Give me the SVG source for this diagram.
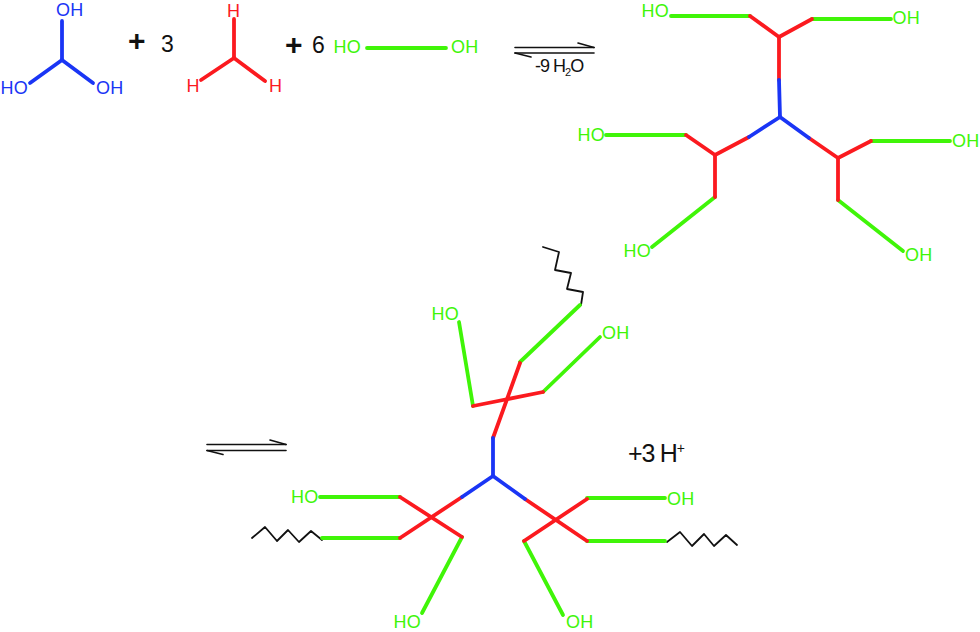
<svg xmlns="http://www.w3.org/2000/svg" width="980" height="632" viewBox="0 0 980 632">
<style>
text{font-family:"Liberation Sans",Arial,sans-serif;font-size:18px;letter-spacing:.2px}
line,polyline{fill:none;stroke-linecap:round;stroke-linejoin:round;stroke-width:3.8}
.g line{stroke:#40f508}.r line{stroke:#fb1a1f}.b line{stroke:#1a35f5}
polyline.k{stroke:#111;stroke-width:1.8}
.a line{stroke:#111;stroke-width:1.6}
.tg{fill:#40f508}.tr{fill:#fb1a1f}.tb{fill:#1a35f5}.tk{fill:#111;font-size:23px;letter-spacing:0}
.p{fill:#111;font-size:30px;font-weight:bold;letter-spacing:0}
</style>
<rect width="980" height="632" fill="#fff"/>
<g id="triol">
<g class="b"><line x1="62" y1="21" x2="62" y2="60"/><line x1="62" y1="60" x2="30" y2="83"/><line x1="62" y1="60" x2="93" y2="83"/></g>
<text class="tb" x="56" y="16">OH</text><text class="tb" x="0.5" y="94">HO</text><text class="tb" x="96" y="94">OH</text>
</g>
<g id="aldehyde">
<g class="r"><line x1="234" y1="19" x2="234" y2="58"/><line x1="234" y1="58" x2="201" y2="80"/><line x1="234" y1="58" x2="265" y2="81"/></g>
<text class="tr" x="227" y="16.500">H</text><text class="tr" x="186.500" y="92">H</text><text class="tr" x="269" y="92">H</text>
</g>
<g id="diol">
<g class="g"><line x1="367" y1="48" x2="446" y2="48"/></g>
<text class="tg" x="333.500" y="53">HO</text><text class="tg" x="451" y="53">OH</text>
</g>
<g id="coefficients">
<text class="p" x="128" y="51">+</text><text class="tk" x="161" y="52">3</text>
<text class="p" x="285" y="55">+</text><text class="tk" x="312" y="53">6</text>
</g>
<g id="equilibrium-1" class="a">
<line x1="515" y1="47.5" x2="594" y2="47.5"/><line x1="594" y1="47.5" x2="578" y2="43"/>
<line x1="515" y1="53" x2="594" y2="53"/><line x1="515" y1="53" x2="531" y2="57"/>
<text x="535" y="72" style="font-size:18px;fill:#111;letter-spacing:-1px">-9 H<tspan dy="4" style="font-size:11px">2</tspan><tspan dy="-4">O</tspan></text>
</g>
<g id="equilibrium-2" class="a">
<line x1="207" y1="444.5" x2="286" y2="444.5"/><line x1="286" y1="444.5" x2="270" y2="440"/>
<line x1="207" y1="450.5" x2="286" y2="450.5"/><line x1="207" y1="450.5" x2="223" y2="454.5"/>
</g>
<g id="intermediate">
<g class="g"><line x1="671" y1="16" x2="750" y2="16"/><line x1="812" y1="19" x2="891" y2="19"/><line x1="686" y1="135" x2="606" y2="135"/><line x1="715" y1="197" x2="652" y2="247"/><line x1="871" y1="141" x2="950" y2="141"/><line x1="838" y1="200" x2="903" y2="251"/></g>
<g class="r"><line x1="750" y1="16" x2="779" y2="37"/><line x1="779" y1="37" x2="812" y2="19"/><line x1="779" y1="37" x2="779" y2="80"/><line x1="749" y1="137" x2="715" y2="155"/><line x1="715" y1="155" x2="686" y2="135"/><line x1="715" y1="155" x2="715" y2="197"/><line x1="809" y1="138" x2="838" y2="158"/><line x1="838" y1="158" x2="871" y2="141"/><line x1="838" y1="158" x2="838" y2="200"/></g>
<g class="b"><line x1="779" y1="80" x2="780" y2="117"/><line x1="780" y1="117" x2="749" y2="137"/><line x1="780" y1="117" x2="809" y2="138"/></g>
<text class="tg" x="641.500" y="17">HO</text><text class="tg" x="892.500" y="24">OH</text><text class="tg" x="577.500" y="141">HO</text><text class="tg" x="952" y="147">OH</text><text class="tg" x="623.500" y="257">HO</text><text class="tg" x="905" y="261">OH</text>
</g>
<g id="polymer">
<polyline class="k" points="543,247 559,252 555,270 571,273 567,289 583,292 581,305"/>
<polyline class="k" points="322,540 311,531 299,542 288,530 277,541 265,527 252,538"/>
<polyline class="k" points="667,542 680,532 692,546 704,534 714,546 726,535 737,545"/>
<g class="g"><line x1="580" y1="305" x2="520" y2="362"/><line x1="473" y1="406" x2="459" y2="322"/><line x1="543" y1="392" x2="600" y2="337"/><line x1="400" y1="497" x2="320" y2="497"/><line x1="400" y1="538" x2="322" y2="538"/><line x1="462" y1="537" x2="422" y2="613"/><line x1="587" y1="498" x2="665" y2="498"/><line x1="587" y1="541" x2="665" y2="541"/><line x1="524" y1="541" x2="563" y2="615"/></g>
<g class="r"><line x1="520" y1="363" x2="493" y2="438"/><line x1="473" y1="406" x2="543" y2="392"/><line x1="462" y1="497" x2="400" y2="538"/><line x1="400" y1="497" x2="462" y2="537"/><line x1="525" y1="499" x2="587" y2="541"/><line x1="524" y1="541" x2="587" y2="499"/></g>
<g class="b"><line x1="493" y1="438" x2="493" y2="476"/><line x1="493" y1="476" x2="462" y2="497"/><line x1="493" y1="476" x2="525" y2="499"/></g>
<text class="tg" x="431.500" y="320">HO</text><text class="tg" x="602" y="339">OH</text><text class="tg" x="291" y="503">HO</text><text class="tg" x="393.500" y="628">HO</text><text class="tg" x="566" y="628">OH</text><text class="tg" x="667" y="505">OH</text>
</g>
<g id="proton"><text class="tk" x="628" y="462" style="font-size:25px;letter-spacing:-1.2px">+3 H<tspan dy="-9" style="font-size:14px">+</tspan></text></g>
</svg>
